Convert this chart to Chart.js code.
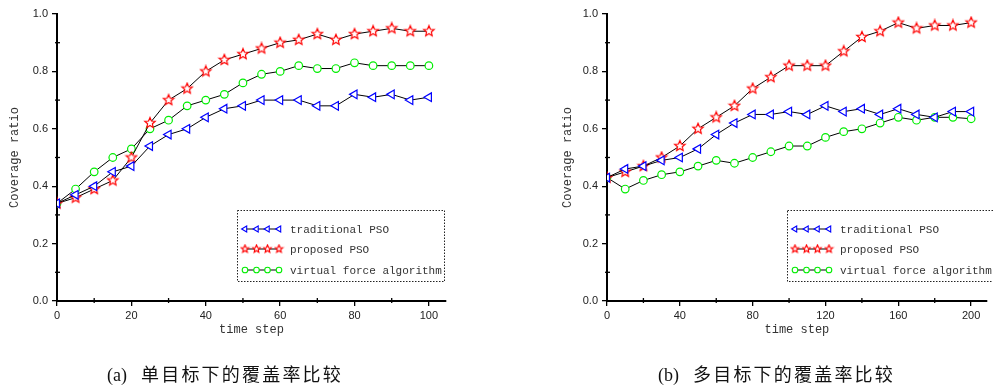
<!DOCTYPE html>
<html>
<head>
<meta charset="utf-8">
<script src="https://cdn.jsdelivr.net/npm/chart.js@4"></script>
<style>
body { margin: 0; background: #fff; width: 993px; height: 390px; overflow: hidden; position: relative; }
canvas { position: absolute; top: 0; }
#chartA { left: 0; }
#chartB { left: 500px; }
.caption { position: absolute; top: 363px; font-size: 18px; color: #111; white-space: nowrap;
  font-family: "Liberation Serif", "Noto Sans CJK SC", serif; line-height: 24px; }
.caption span { letter-spacing: 2.2px; margin-left: 14px; }
</style>
</head>
<body>
<canvas id="chartA" width="500" height="390"></canvas>
<canvas id="chartB" width="493" height="390"></canvas>
<div class="caption" style="left:107px">(a)<span>单目标下的覆盖率比较</span></div>
<div class="caption" style="left:658px">(b)<span>多目标下的覆盖率比较</span></div>
<script>
// series names, same in both panels
const seriesNames = ['traditional PSO', 'proposed PSO', 'virtual force algorithm']

// (a) single target, time steps 0..100
const stepsA = [0, 5, 10, 15, 20, 25, 30, 35, 40, 45, 50, 55, 60, 65, 70, 75, 80, 85, 90, 95, 100]
const traditionalA = [0.34, 0.37, 0.40, 0.45, 0.47, 0.54, 0.58, 0.60, 0.64, 0.67, 0.68, 0.70, 0.70, 0.70, 0.68, 0.68, 0.72, 0.71, 0.72, 0.70, 0.71]
const proposedA = [0.34, 0.36, 0.39, 0.42, 0.50, 0.62, 0.70, 0.74, 0.80, 0.84, 0.86, 0.88, 0.90, 0.91, 0.93, 0.91, 0.93, 0.94, 0.95, 0.94, 0.94]
const virtualA = [0.34, 0.39, 0.45, 0.50, 0.53, 0.60, 0.63, 0.68, 0.70, 0.72, 0.76, 0.79, 0.80, 0.82, 0.81, 0.81, 0.83, 0.82, 0.82, 0.82, 0.82]

// (b) multiple targets, time steps 0..200
const stepsB = [0, 10, 20, 30, 40, 50, 60, 70, 80, 90, 100, 110, 120, 130, 140, 150, 160, 170, 180, 190, 200]
const traditionalB = [0.43, 0.46, 0.47, 0.49, 0.50, 0.53, 0.58, 0.62, 0.65, 0.65, 0.66, 0.65, 0.68, 0.66, 0.67, 0.65, 0.67, 0.65, 0.64, 0.66, 0.66]
const proposedB = [0.43, 0.45, 0.47, 0.50, 0.54, 0.60, 0.64, 0.68, 0.74, 0.78, 0.82, 0.82, 0.82, 0.87, 0.92, 0.94, 0.97, 0.95, 0.96, 0.96, 0.97]
const virtualB = [0.43, 0.39, 0.42, 0.44, 0.45, 0.47, 0.49, 0.48, 0.50, 0.52, 0.54, 0.54, 0.57, 0.59, 0.60, 0.62, 0.64, 0.63, 0.64, 0.64, 0.635]

// axis ticks
const yTicks = [0, 0.2, 0.4, 0.6, 0.8, 1.0]
const yMinor = [0.1, 0.3, 0.5, 0.7, 0.9]
const xTicksA = [0, 20, 40, 60, 80, 100]
const xMinorA = [10, 30, 50, 70, 90]
const xTicksB = [0, 40, 80, 120, 160, 200]
const xMinorB = [20, 60, 100, 140, 180]

const monoFont = '"Liberation Mono", "DejaVu Sans Mono", monospace'
const sansFont = '"Liberation Sans", Arial, sans-serif'

// hollow 5 point star used as the red marker
function makeStar(R, r) {
    const size = Math.ceil(R * 2 + 3)
    const c = document.createElement('canvas')
    c.width = size
    c.height = size
    const g = c.getContext('2d')
    g.beginPath()
    for (let i = 0; i < 10; i++) {
        const rad = i % 2 ? r : R
        const a = -Math.PI / 2 + i * Math.PI / 5
        const px = size / 2 + rad * Math.cos(a)
        const py = size / 2 + rad * Math.sin(a)
        if (i == 0) g.moveTo(px, py); else g.lineTo(px, py)
    }
    g.closePath()
    g.fillStyle = '#fff'
    g.fill()
    g.strokeStyle = '#ff0000'
    g.lineWidth = 1.2
    g.stroke()
    return c
}
const starBig = makeStar(5.5, 2.5)
const starSmall = makeStar(3.9, 1.8)

// marker styles for each series: plot size and legend size
const markers = [
    {color: '#0000ff', style: 'triangle', rotation: -90, radius: 5, legendRadius: 3.4},
    {color: '#ff0000', style: starBig, legendStyle: starSmall, rotation: 0, radius: 5, legendRadius: 4},
    {color: '#00ee00', style: 'circle', rotation: 0, radius: 3.8, legendRadius: 2.8}
]

function makeDataset(i, steps, values) {
    const m = markers[i]
    return {
        label: seriesNames[i],
        data: steps.map((s, k) => ({x: s, y: values[k]})),
        borderColor: '#000',
        borderWidth: 1,
        tension: 0,
        pointStyle: m.style,
        rotation: m.rotation,
        pointRadius: m.radius,
        pointHoverRadius: m.radius,
        pointBorderColor: m.color,
        pointBackgroundColor: '#fff',
        pointBorderWidth: 1.2
    }
}

// draws the small crossing minor ticks and the dotted legend box
const framePlugin = {
    id: 'frame',
    afterDraw(chart, args, opts) {
        const ctx = chart.ctx
        const xs = chart.scales.x
        const ys = chart.scales.y
        const area = chart.chartArea
        ctx.save()
        ctx.strokeStyle = '#000'
        ctx.lineWidth = 1.3
        opts.xMinor.forEach(v => {
            const p = xs.getPixelForValue(v)
            ctx.beginPath(); ctx.moveTo(p, area.bottom - 3); ctx.lineTo(p, area.bottom + 2); ctx.stroke()
        })
        opts.yMinor.forEach(v => {
            const p = ys.getPixelForValue(v)
            ctx.beginPath(); ctx.moveTo(area.left - 2, p); ctx.lineTo(area.left + 3, p); ctx.stroke()
        })

        // legend
        const b = opts.box
        ctx.setLineDash([1.5, 1.5])
        ctx.strokeStyle = '#222'
        ctx.lineWidth = 1
        ctx.strokeRect(b.left + 0.5, b.top + 0.5, b.width, b.height)
        ctx.setLineDash([])
        const rows = [19, 39, 60]
        const offs = [8, 19.5, 30.5, 42]
        markers.forEach((m, i) => {
            const y = b.top + rows[i]
            ctx.strokeStyle = '#000'
            ctx.lineWidth = 1
            ctx.beginPath(); ctx.moveTo(b.left + offs[0], y); ctx.lineTo(b.left + offs[3], y); ctx.stroke()
            offs.forEach(o => {
                ctx.strokeStyle = m.color
                ctx.fillStyle = '#fff'
                ctx.lineWidth = 1.1
                Chart.helpers.drawPoint(ctx, {
                    pointStyle: m.legendStyle || m.style,
                    rotation: m.rotation,
                    radius: m.legendRadius,
                    borderWidth: 1.1
                }, b.left + o, y)
            })
            ctx.fillStyle = '#333'
            ctx.font = '11px ' + monoFont
            ctx.textBaseline = 'middle'
            ctx.textAlign = 'left'
            ctx.fillText(seriesNames[i], b.left + 53, y + 1)
        })
        ctx.restore()
    }
}

function buildChart(canvasId, steps, series, xMax, xTicks, xMinor, yAxisWidth, yTitlePad, rightPad, box) {
    return new Chart(document.getElementById(canvasId), {
        type: 'line',
        data: {
            datasets: series.map((vals, i) => makeDataset(i, steps, vals))
        },
        options: {
            responsive: false,
            animation: false,
            devicePixelRatio: 1,
            layout: {padding: {top: 14, right: rightPad, bottom: 50, left: 0}},
            plugins: {
                legend: {display: false},
                tooltip: {enabled: false},
                frame: {xMinor: xMinor, yMinor: yMinor, box: box}
            },
            scales: {
                x: {
                    type: 'linear',
                    min: 0,
                    max: xMax,
                    afterFit: s => { s.height = 39 },
                    afterBuildTicks: s => { s.ticks = xTicks.map(v => ({value: v})) },
                    border: {display: true, color: '#000', width: 2},
                    grid: {drawOnChartArea: false, drawTicks: true, tickLength: 5, color: '#000', lineWidth: 1.3},
                    ticks: {color: '#222', font: {family: sansFont, size: 11}, padding: 3, maxRotation: 0},
                    title: {display: true, text: 'time step', color: '#333', font: {family: monoFont, size: 12}, padding: {top: 0, bottom: 3}}
                },
                y: {
                    min: 0,
                    max: 1.0,
                    afterFit: s => { s.width = yAxisWidth },
                    afterBuildTicks: s => { s.ticks = yTicks.map(v => ({value: v})) },
                    border: {display: true, color: '#000', width: 2},
                    grid: {drawOnChartArea: false, drawTicks: true, tickLength: 5, color: '#000', lineWidth: 1.3},
                    ticks: {color: '#222', font: {family: sansFont, size: 11}, padding: 4, callback: v => v.toFixed(1)},
                    title: {display: true, text: 'Coverage ratio', color: '#333', font: {family: monoFont, size: 12}, padding: {top: yTitlePad, bottom: 0}}
                }
            }
        },
        plugins: [framePlugin]
    })
}

buildChart('chartA', stepsA, [traditionalA, proposedA, virtualA], 104.6, xTicksA, xMinorA, 57, 8, 54,
    {left: 237, top: 210, width: 207, height: 71})
buildChart('chartB', stepsB, [traditionalB, proposedB, virtualB], 208.6, xTicksB, xMinorB, 107, 61, 0,
    {left: 287, top: 210, width: 215, height: 71})
</script>
</body>
</html>
